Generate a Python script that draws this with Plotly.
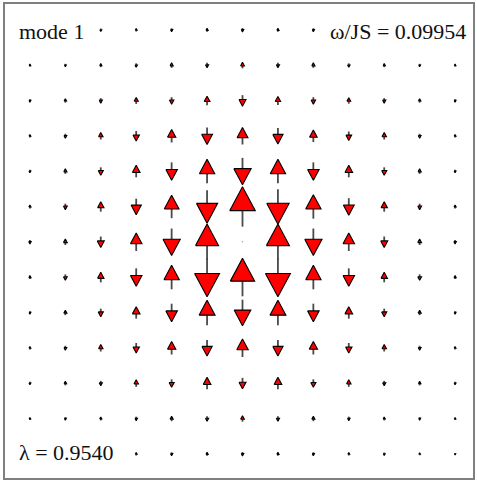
import plotly.graph_objects as go

# Spin-deviation amplitude on a 13 x 13 lattice (row 0 = top row), positive = up.
AMPLITUDE = [
    [-2, 2.5, -3, 3, -3.5, 3.5, -4, 3.5, -3.5, 3, -3, 2.5, -2],
    [2.5, -3, 3.5, -4, 5, -5, 6, -5, 5, -4, 3.5, -3, 2.5],
    [-3, 4, -5, 6.5, -7, 9, -11, 8.5, -7, 6, -5, 4, -3],
    [3, -4.5, 7, -10, 13, -17, 17, -16, 12, -9, 7, -4.5, 3],
    [-3, 5, -8, 12, -18, 24, -27, 24, -18, 12, -8, 5, -3],
    [3.5, -6, 10, -16, 23, -33, 40, -35, 24, -17, 10, -6, 3.5],
    [-4, 6, -11, 18, -27, 36, -0.5, 36, -27, 18, -11, 6, -4],
    [3.5, -6, 10, -18, 24, -39, 38, -39, 24, -18, 10, -6, 3.5],
    [-3, 5, -8, 12, -18, 25, -26, 25, -18, 12, -8, 5, -3],
    [3, -4.5, 7, -10, 13, -16, 18, -16, 13, -10, 7, -4.5, 3],
    [-3, 4, -5, 7, -8, 12, -11, 12, -8, 7, -5, 4, -3],
    [2.5, -3, 3.5, -4, 5, -5, 6, -5, 5, -4, 3.5, -3, 2.5],
    [-2, 2.5, -3, 3, -3.5, 3.5, -4, 3.5, -3.5, 3, -3, 2.5, -2],
]

MODE_LABEL = "mode 1"
FREQ_LABEL = "ω/JS = 0.09954"
LAMBDA_LABEL = "λ = 0.9540"

# arrow geometry (relative to amplitude)
SCALE = 1 / 35.4        # amplitude -> lattice units
HEAD_FRAC = 0.6         # head length / arrow length
HEAD_HALF_W = 0.32      # head half width / arrow length

n_rows = len(AMPLITUDE)
n_cols = len(AMPLITUDE[0])

shaft_x, shaft_y = [], []
head_x, head_y = [], []
for r, row in enumerate(AMPLITUDE):
    y0 = (n_rows - 1) - r
    for c, a in enumerate(row):
        x0 = c
        length = abs(a) * SCALE
        s = 1 if a >= 0 else -1
        tail = y0 - s * length / 2
        tip = y0 + s * length / 2
        base = tip - s * HEAD_FRAC * length
        hw = HEAD_HALF_W * length
        shaft_x += [x0, x0, None]
        shaft_y += [tail, base, None]
        head_x += [x0 - hw, x0 + hw, x0, x0 - hw, None]
        head_y += [base, base, tip, base, None]

fig = go.Figure()
fig.add_trace(go.Scatter(
    x=shaft_x, y=shaft_y, mode="lines",
    line=dict(color="#4a4a4a", width=1.8),
    hoverinfo="skip", showlegend=False,
))
fig.add_trace(go.Scatter(
    x=head_x, y=head_y, mode="lines", fill="toself",
    fillcolor="#ff0000", line=dict(color="#000000", width=1.1),
    hoverinfo="skip", showlegend=False,
))

axis_common = dict(
    showgrid=False, zeroline=False, showticklabels=False, ticks="",
    showline=True, mirror=True, linecolor="#7f7f7f", linewidth=2,
)
fig.update_xaxes(range=[-0.703, n_cols - 1 + 0.506], **axis_common)
fig.update_yaxes(range=[-0.679, n_rows - 1 + 0.736], **axis_common)

label_font = dict(family="Liberation Serif, DejaVu Serif, serif", size=22, color="#111111")
fig.add_annotation(text=MODE_LABEL, xref="paper", yref="paper", x=0.026, y=0.943,
                   xanchor="left", yanchor="middle", showarrow=False,
                   bgcolor="white", borderpad=1, font=label_font)
fig.add_annotation(text=FREQ_LABEL, xref="paper", yref="paper", x=0.99, y=0.943,
                   xanchor="right", yanchor="middle", showarrow=False,
                   bgcolor="white", borderpad=1, font=label_font)
fig.add_annotation(text=LAMBDA_LABEL, xref="paper", yref="paper", x=0.026, y=0.053,
                   xanchor="left", yanchor="middle", showarrow=False,
                   bgcolor="white", borderpad=1, font=label_font)

fig.update_layout(
    width=477, height=480,
    margin=dict(l=5, r=2, t=4, b=2),
    paper_bgcolor="white", plot_bgcolor="white",
)

fig.write_html("out.html")
